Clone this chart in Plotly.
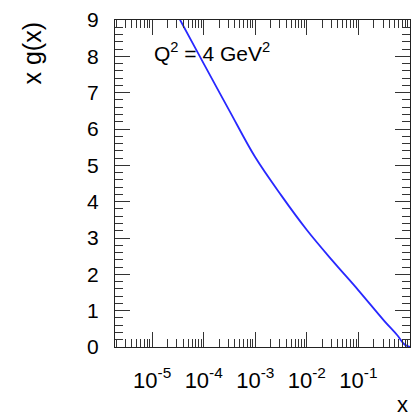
import plotly.graph_objects as go

# Data (x on log axis, x*g(x) values)
x_vals = [2.818e-5, 3.491e-5, 1.0e-4, 3.162e-4, 1.0e-3, 3.162e-3, 1.0e-2,
          0.03162, 0.1, 0.3162, 0.5623, 0.7943, 1.0]
xg_vals = [9.24, 9.0, 7.80, 6.50, 5.22, 4.18, 3.22,
           2.37, 1.56, 0.72, 0.33, 0.06, 0.0]

x_tickvals = [1e-5, 1e-4, 1e-3, 1e-2, 1e-1, 1.0]
x_ticktext = ["10<sup>-5</sup>", "10<sup>-4</sup>", "10<sup>-3</sup>",
              "10<sup>-2</sup>", "10<sup>-1</sup>", ""]
x_minor = [m * 10.0 ** e for e in range(-6, 0) for m in range(2, 10)]

label_text = "Q<sup>2</sup> = 4 GeV<sup>2</sup>"
y_title = "x g(x)"
x_title = "x"

FONT = "Liberation Sans, Arial, sans-serif"

fig = go.Figure()
fig.add_trace(go.Scatter(x=x_vals, y=xg_vals, mode="lines",
                         line=dict(color="rgb(40,40,255)", width=1.8,
                                   shape="spline", smoothing=1.0),
                         showlegend=False, hoverinfo="skip"))

fig.update_layout(
    width=411, height=416,
    margin=dict(l=115, r=1, t=20, b=69),
    paper_bgcolor="white", plot_bgcolor="white",
    font=dict(family=FONT, color="black", size=20),
    showlegend=False,
)

fig.update_xaxes(
    type="log", range=[-5.72, 0],
    tickmode="array", tickvals=x_tickvals, ticktext=x_ticktext,
    ticks="inside", ticklen=15, tickwidth=1.2, tickcolor="#333",
    minor=dict(ticks="inside", ticklen=8, tickwidth=1.2, tickcolor="#333",
               tickmode="array", tickvals=x_minor),
    showline=True, linecolor="#222", linewidth=1.3, mirror="ticks",
    showgrid=False, zeroline=False,
    tickfont=dict(size=22, family=FONT, color="black"),
    ticklabelstandoff=13,
)
fig.update_yaxes(
    range=[0, 9], dtick=1, tick0=0,
    ticks="inside", ticklen=15, tickwidth=1.2, tickcolor="#333",
    minor=dict(ticks="inside", ticklen=8, tickwidth=1.2, tickcolor="#333", dtick=0.2),
    showline=True, linecolor="#222", linewidth=1.3, mirror="ticks",
    showgrid=False, zeroline=False,
    tickfont=dict(size=21, family=FONT, color="black"),
    ticklabelstandoff=11,
)

fig.add_annotation(text=label_text, xref="paper", yref="paper",
                   x=(152 - 115) / 295, y=1 - (52 - 20) / 327,
                   xanchor="left", yanchor="middle", showarrow=False,
                   font=dict(size=21, family=FONT, color="black"))
fig.add_annotation(text=x_title, xref="paper", yref="paper",
                   x=1.0, y=-(404 - 347) / 327, xanchor="right", yanchor="middle",
                   showarrow=False, font=dict(size=22, family=FONT, color="black"))
fig.add_annotation(text=y_title, xref="paper", yref="paper",
                   x=(31 - 115) / 295, y=1 - 0 / 327, xanchor="center", yanchor="top",
                   textangle=-90, showarrow=False,
                   font=dict(size=25, family=FONT, color="black"))

fig.write_html("out.html")
